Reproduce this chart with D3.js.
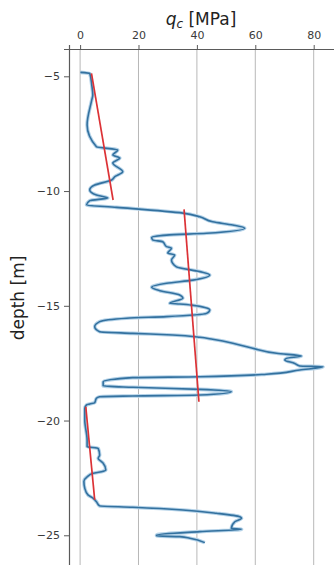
<!DOCTYPE html>
<html>
<head>
<meta charset="utf-8">
<script src="https://cdn.jsdelivr.net/npm/d3@7"></script>
<style>
  body { margin: 0; background: #fff; overflow: hidden; }
  svg { display: block; font-family: "DejaVu Sans", sans-serif; }
</style>
</head>
<body>
<svg id="chart" width="334" height="565"></svg>
<script>
// CPT profile: cone resistance qc [MPa] vs depth [m]
const qc = [0.1, 3.3, 4.0, 4.35, 4.0, 2.4, 5.6, 12.9, 11.2, 13.6, 11.2, 14.6, 11.9, 10.8, 5.0, 3.3, 5.6, 9.5, 3.3, 2.2,
  12.5, 35.2, 41.0, 45.4, 52.3, 56.4, 43.3, 29.6, 24.5, 24.9, 28.3, 29.6, 31.3, 30.0, 32.4, 31.3, 33.0, 41.0, 44.4, 38.6,
  29.6, 24.5, 27.3, 34.1, 35.2, 30.7, 34.1, 38.2, 44.4, 43.3, 29.6, 15.9, 6.7, 5.0, 6.7, 18.0, 31.7, 41.0, 45.4, 52.3,
  59.1, 67.3, 75.8, 70.7, 70.1, 73.5, 75.2, 83.2, 75.2, 63.8, 41.0, 18.0, 7.9, 7.9, 18.0, 41.0, 51.8, 41.0, 18.0, 6.7,
  5.6, 5.0, 3.3, 2.2, 1.6, 1.6, 2.4, 2.4, 6.2, 6.7, 6.2, 7.3, 7.9, 8.8, 7.3, 4.5, 2.4, 1.3, 1.6, 2.7,
  4.5, 5.6, 6.7, 18.0, 35.2, 46.7, 54.7, 55.3, 53.0, 51.8, 55.3, 41.0, 26.2, 26.2, 34.1, 37.6, 42.7];
const depth = [-4.83, -4.87, -5.38, -5.81, -6.03, -7.12, -8.07, -8.21, -8.43, -8.56, -8.78, -9.16, -9.37, -9.52, -9.74, -9.95, -10.17, -10.30, -10.42, -10.61,
  -10.71, -10.96, -11.12, -11.34, -11.48, -11.62, -11.84, -11.92, -12.02, -12.13, -12.21, -12.42, -12.49, -12.70, -12.79, -13.00, -13.30, -13.51, -13.66, -13.88,
  -14.02, -14.19, -14.34, -14.53, -14.67, -14.89, -14.92, -14.97, -15.18, -15.33, -15.47, -15.54, -15.69, -15.91, -16.13, -16.20, -16.27, -16.37, -16.46, -16.63,
  -16.85, -17.07, -17.19, -17.29, -17.36, -17.51, -17.62, -17.66, -17.80, -17.98, -18.09, -18.13, -18.31, -18.49, -18.55, -18.64, -18.74, -18.89, -18.93, -18.96,
  -19.03, -19.22, -19.28, -19.32, -19.47, -19.98, -20.85, -21.14, -21.21, -21.50, -21.65, -21.79, -21.86, -22.15, -22.23, -22.30, -22.45, -22.66, -22.95, -23.24,
  -23.39, -23.54, -23.72, -23.78, -23.90, -24.04, -24.19, -24.26, -24.41, -24.70, -24.74, -24.84, -24.99, -25.03, -25.06, -25.13, -25.32];

// linear trend per layer: [qc top, qc bottom], [depth top, depth bottom]
const trendQc = [[3.9, 11.3], [35.6, 40.7], [1.95, 5.0]];
const trendDepth = [[-4.87, -10.39], [-10.80, -19.18], [-19.40, -23.46]];

const xTicks = [0, 20, 40, 60, 80];
const yTicks = [-5, -10, -15, -20, -25];

const svg = d3.select("#chart");
const margin = { top: 49, left: 69 };

const x = d3.scaleLinear().domain([-3.8, 89]).range([margin.left, margin.left + 92.8 * 2.92]);
const y = d3.scaleLinear().domain([-3.81, -26.8]).range([margin.top, 576.6]);

// vertical grid
svg.append("g")
  .selectAll("line")
  .data(xTicks)
  .enter()
  .append("line")
  .attr("x1", d => x(d)).attr("x2", d => x(d))
  .attr("y1", y.range()[0]).attr("y2", y.range()[1])
  .attr("stroke", "#b8b8b8")
  .attr("stroke-width", 1);

// CPT trace, with a soft halo like the blurred original
const line = d3.line().x(d => x(d[0])).y(d => y(d[1])).curve(d3.curveMonotoneY);
const pts = d3.zip(qc, depth);
svg.append("path").datum(pts)
  .attr("d", line).attr("fill", "none")
  .attr("stroke", "#b4d2e8").attr("stroke-width", 3.6)
  .attr("stroke-linejoin", "round");
svg.append("path").datum(pts)
  .attr("d", line).attr("fill", "none")
  .attr("stroke", "#33719f").attr("stroke-width", 1.6)
  .attr("stroke-linejoin", "round");

// trend lines
svg.append("g")
  .selectAll("line")
  .data(d3.zip(trendQc, trendDepth))
  .enter()
  .append("line")
  .attr("x1", d => x(d[0][0])).attr("x2", d => x(d[0][1]))
  .attr("y1", d => y(d[1][0])).attr("y2", d => y(d[1][1]))
  .attr("stroke", "#dc3236")
  .attr("stroke-width", 1.7);

// axes
const xAxis = svg.append("g")
  .attr("transform", `translate(0, ${margin.top})`)
  .call(d3.axisTop(x).tickValues(xTicks).tickSize(4).tickPadding(6));
const yAxis = svg.append("g")
  .attr("transform", `translate(${margin.left}, 0)`)
  .call(d3.axisLeft(y).tickValues(yTicks).tickSize(5).tickPadding(4)
    .tickFormat(d => String(d).replace("-", "\u2212")));

[xAxis, yAxis].forEach(g => {
  g.select(".domain").attr("stroke", "#5a5a5a").attr("stroke-width", 1.2);
  g.selectAll(".tick line").attr("stroke", "#5a5a5a");
  g.selectAll(".tick text")
    .style("font-family", "DejaVu Sans")
    .style("font-size", "11px")
    .style("fill", "#3a3a3a");
});

// axis labels
const title = svg.append("text")
  .attr("x", 201)
  .attr("y", 25)
  .attr("text-anchor", "middle")
  .style("font-size", "17px")
  .style("fill", "#222");
title.append("tspan").style("font-style", "italic").text("q");
title.append("tspan").style("font-style", "italic").style("font-size", "12px").attr("dy", 3).text("c");
title.append("tspan").attr("dy", -3).text(" [MPa]");

svg.append("text")
  .attr("transform", "rotate(-90)")
  .attr("x", -298)
  .attr("y", 24)
  .attr("text-anchor", "middle")
  .style("font-size", "17px")
  .style("fill", "#222")
  .text("depth [m]");
</script>
</body>
</html>
